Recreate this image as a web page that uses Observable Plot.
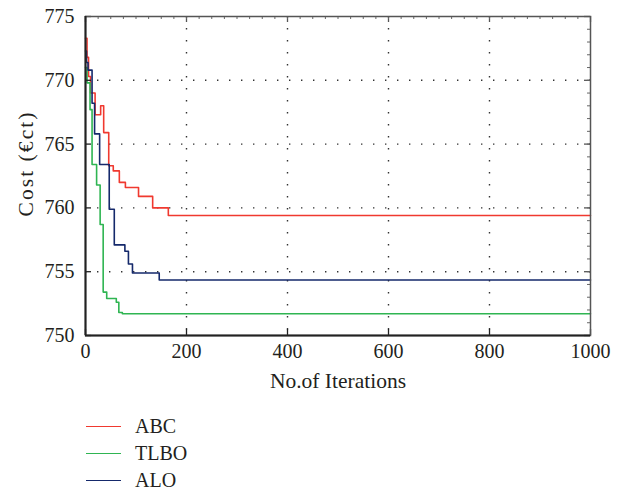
<!DOCTYPE html>
<html>
<head>
<meta charset="utf-8">
<script src="https://cdn.jsdelivr.net/npm/d3@7"></script>
<script src="https://cdn.jsdelivr.net/npm/@observablehq/plot@0.6"></script>
<style>
  html, body { margin: 0; padding: 0; background: #fff; }
  #chart { width: 629px; height: 491px; font-family: "Liberation Serif", "DejaVu Serif", serif; color: #231f20; }
  #legend { padding-top: 13px; padding-left: 86px; }
  .row { display: flex; align-items: center; height: 27px; font-size: 20px; }
  .sw { display: inline-block; width: 35px; height: 0; border-top: 1.5px solid; margin-right: 14px; }
</style>
</head>
<body>
<div id="chart"></div>
<script>
// ---- data ----
const seriesNames = ["ABC", "TLBO", "ALO"];
const seriesColors = ["#f0392f", "#2fb552", "#15296b"];

const abcIter = [0, 3, 6, 10, 19, 30, 36, 46, 55, 67, 79, 105, 133, 164, 1000];
const abcCost = [773.3, 771.8, 770.3, 769.0, 767.3, 768.0, 765.9, 763.3, 762.9, 762.0, 761.6, 760.9, 760.0, 759.4, 759.4];

const tlboIter = [0, 3, 9, 13, 22, 29, 35, 42, 61, 66, 73, 1000];
const tlboCost = [771.0, 769.8, 767.7, 763.4, 761.8, 758.7, 753.4, 752.9, 752.6, 751.8, 751.7, 751.7];

const aloIter = [0, 2, 5, 13, 18, 28, 47, 57, 78, 85, 93, 146, 1000];
const aloCost = [772.3, 771.4, 770.8, 768.2, 765.8, 763.4, 759.9, 757.1, 756.6, 755.6, 754.9, 754.35, 754.35];

const xTicks = [0, 200, 400, 600, 800, 1000];
const yTicks = [750, 755, 760, 765, 770, 775];
const xGrid = [200, 400, 600, 800];
const yGrid = [755, 760, 765, 770];
const xMinor = d3.range(0, 1001, 25);
const yMinor = d3.range(750, 776, 1);
const xLabel = "No.of Iterations";
const yLabel = "Cost (€ct)";

// ---- build table ----
const rows = [];
[[abcIter, abcCost], [tlboIter, tlboCost], [aloIter, aloCost]].forEach(([it, c], k) => {
  it.forEach((x, i) => rows.push({series: seriesNames[k], iter: x, cost: c[i]}));
});

const W = 629, H = 400, mL = 85, mR = 39, mT = 16, mB = 65;
const pw = W - mL - mR, ph = H - mT - mB;

const plot = Plot.plot({
  width: W,
  height: H,
  marginLeft: mL,
  marginRight: mR,
  marginTop: mT,
  marginBottom: mB,
  style: { fontFamily: "Liberation Serif, DejaVu Serif, serif", fontSize: "20px", color: "#231f20", background: "#fff" },
  x: { domain: [0, 1000] },
  y: { domain: [750, 775] },
  color: { domain: seriesNames, range: seriesColors },
  marks: [
    Plot.gridX(xGrid, { stroke: "#333", strokeOpacity: 1, strokeWidth: 1.4, strokeDasharray: "1.4,10.6" }),
    Plot.gridY(yGrid, { stroke: "#333", strokeOpacity: 1, strokeWidth: 1.4, strokeDasharray: "1.4,10.6" }),
    Plot.line(rows, { x: "iter", y: "cost", z: "series", stroke: "series", curve: "step-after", strokeWidth: 1.6 }),
    // inward ticks
    Plot.tickX(xTicks, { x: d => d, insetTop: ph - 6, stroke: "#222", strokeWidth: 1.3 }),
    Plot.tickX(xTicks, { x: d => d, insetBottom: ph - 6, stroke: "#555", strokeWidth: 1.3 }),
    Plot.tickX(xMinor, { x: d => d, insetBottom: ph - 3, stroke: "#666", strokeWidth: 1 }),
    Plot.tickY(yTicks, { y: d => d, insetRight: pw - 6, stroke: "#222", strokeWidth: 1.3 }),
    Plot.tickY(yTicks, { y: d => d, insetLeft: pw - 6, stroke: "#555", strokeWidth: 1.3 }),
    Plot.tickY(yMinor, { y: d => d, insetLeft: pw - 3, stroke: "#666", strokeWidth: 1 }),
    Plot.frame({ stroke: "#555", strokeWidth: 1.5 }),
    Plot.ruleX([0], { stroke: "#222", strokeWidth: 2 }),
    Plot.ruleY([750], { stroke: "#222", strokeWidth: 2 }),
    Plot.axisX(xTicks, { tickSize: 0, tickPadding: 8, tickFormat: d3.format("d"), label: null }),
    Plot.axisY(yTicks, { tickSize: 0, tickPadding: 11, tickFormat: d3.format("d"), label: null }),
    Plot.text([xLabel], { text: d => d, frameAnchor: "bottom", dy: 46, fontSize: 21.5, lineAnchor: "middle", textAnchor: "middle" }),
    Plot.text([yLabel], { text: d => d, frameAnchor: "left", rotate: -90, dx: -59, dy: -11.5, fontSize: 21.5, lineAnchor: "middle", textAnchor: "middle" })
  ]
});

// stretch the y label to the reference's length
d3.select(plot).selectAll("text").filter(function () { return this.textContent === yLabel; })
  .attr("textLength", 104).attr("lengthAdjust", "spacing");

const chart = document.getElementById("chart");
chart.appendChild(plot);

const legend = document.createElement("div");
legend.id = "legend";
seriesNames.forEach((n, i) => {
  const r = document.createElement("div");
  r.className = "row";
  const s = document.createElement("span");
  s.className = "sw";
  s.style.borderTopColor = seriesColors[i];
  const t = document.createElement("span");
  t.textContent = n;
  r.appendChild(s); r.appendChild(t);
  legend.appendChild(r);
});
chart.appendChild(legend);
</script>
</body>
</html>
